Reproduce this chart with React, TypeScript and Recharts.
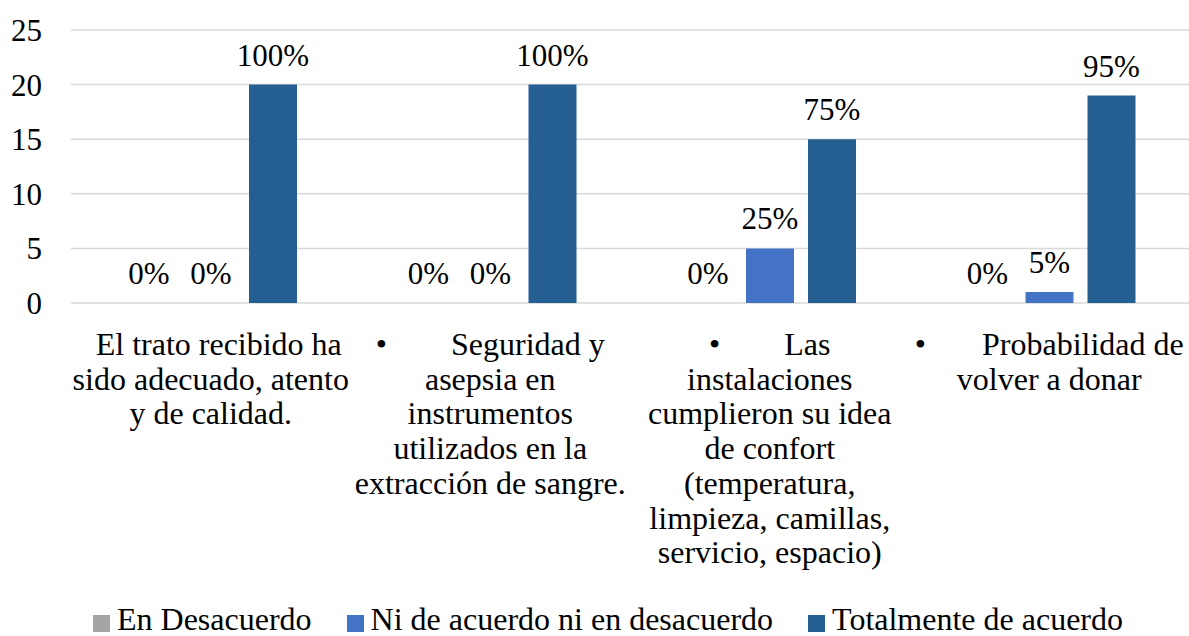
import { BarChart, Bar, XAxis, YAxis, CartesianGrid, Legend, LabelList } from 'recharts'

const categories = ['trato', 'seguridad', 'instalaciones', 'volver']

// wrapped category text, one array per category
const categoryLines = [
  ['  El trato recibido ha', 'sido adecuado, atento', 'y de calidad.'],
  ['•        Seguridad y', 'asepsia en', 'instrumentos', 'utilizados en la', 'extracción de sangre.'],
  ['•        Las', 'instalaciones', 'cumplieron su idea', 'de confort', '(temperatura,', 'limpieza, camillas,', 'servicio, espacio)'],
  ['•       Probabilidad de', 'volver a donar'],
]

const desacuerdo = [0, 0, 0, 0]
const niNi = [0, 0, 5, 1]
const totalmente = [20, 20, 15, 19]

const desacuerdoPct = ['0%', '0%', '0%', '0%']
const niNiPct = ['0%', '0%', '25%', '5%']
const totalmentePct = ['100%', '100%', '75%', '95%']

const yTicks = [0, 5, 10, 15, 20, 25]

const FONT = '"Liberation Serif", "Times New Roman", serif'

const data = categories.map((c, i) => ({
  name: c,
  desacuerdo: desacuerdo[i],
  niNi: niNi[i],
  totalmente: totalmente[i],
  desacuerdoPct: desacuerdoPct[i],
  niNiPct: niNiPct[i],
  totalmentePct: totalmentePct[i],
}))

const CategoryTick = (props: any) => {
  const { x, y, payload } = props
  const lines = categoryLines[payload.index] || []
  return (
    <text x={x} y={y} textAnchor="middle" fontFamily={FONT} fontSize={32} fill="#000" xmlSpace="preserve">
      {lines.map((l, i) => (
        <tspan key={i} x={x} dy={i === 0 ? 52 : 34.7} style={{ whiteSpace: 'pre' }}>
          {l}
        </tspan>
      ))}
    </text>
  )
}

const LegendContent = (props: any) => {
  const items = props.payload || []
  return (
    <div style={{ display: 'flex', fontFamily: FONT, fontSize: 32, lineHeight: '36px', color: '#000' }}>
      {items.map((it: any, i: number) => (
        <div key={i} style={{ display: 'flex', alignItems: 'center', marginRight: 35 }}>
          <span style={{ width: 17, height: 17, background: it.color, marginRight: 7, marginTop: 8 }} />
          <span style={{ whiteSpace: 'nowrap' }}>{it.value}</span>
        </div>
      ))}
    </div>
  )
}

const labelStyle = { fontFamily: FONT, fontSize: 31, fill: '#000' }

export default function App() {
  return (
    <div style={{ position: 'absolute', left: 0, top: 0, background: '#fff' }}>
      <BarChart
        width={1189}
        height={636}
        data={data}
        margin={{ top: 30, right: 0, bottom: 33, left: 0 }}
        barSize={48}
        barGap={14}
      >
        <CartesianGrid vertical={false} stroke="#D9D9D9" strokeWidth={1.5} />
        <XAxis
          dataKey="name"
          height={300}
          axisLine={false}
          tickLine={false}
          tickSize={0}
          tickMargin={0}
          interval={0}
          tick={<CategoryTick />}
        />
        <YAxis
          width={71}
          domain={[0, 25]}
          ticks={yTicks}
          axisLine={false}
          tickLine={false}
          tickSize={0}
          tickMargin={29}
          tick={{ fontFamily: FONT, fontSize: 31, fill: '#000' }}
        />
        <Legend
          verticalAlign="middle"
          align="center"
          content={<LegendContent />}
          wrapperStyle={{ top: 601, left: 93, width: 'auto' }}
        />
        <Bar dataKey="desacuerdo" name="En Desacuerdo" fill="#A5A5A5" minPointSize={0.01} isAnimationActive={false}>
          <LabelList dataKey="desacuerdoPct" position="top" offset={19} style={labelStyle} />
        </Bar>
        <Bar dataKey="niNi" name="Ni de acuerdo ni en desacuerdo" fill="#4472C4" minPointSize={0.01} isAnimationActive={false}>
          <LabelList dataKey="niNiPct" position="top" offset={19} style={labelStyle} />
        </Bar>
        <Bar dataKey="totalmente" name="Totalmente de acuerdo" fill="#255E91" isAnimationActive={false}>
          <LabelList dataKey="totalmentePct" position="top" offset={19} style={labelStyle} />
        </Bar>
      </BarChart>
    </div>
  )
}
